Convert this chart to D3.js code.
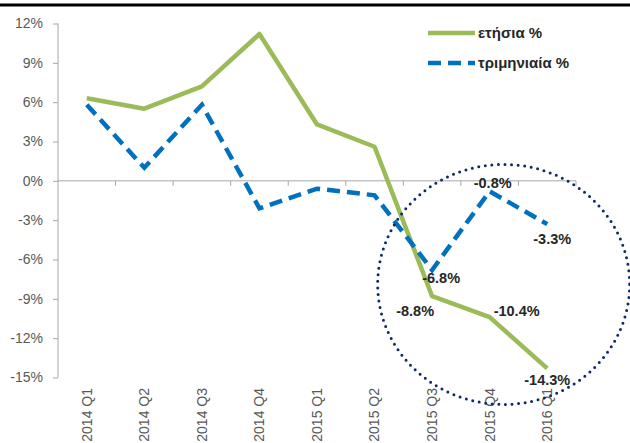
<!DOCTYPE html>
<html>
<head>
<meta charset="utf-8">
<script src="https://cdn.jsdelivr.net/npm/d3@7"></script>
<style>
  body { margin: 0; background: #fff; }
  svg { display: block; font-family: "Liberation Sans", Arial, sans-serif; }
</style>
</head>
<body>
<div class="chart"></div>
<script>
// Data
const quarters = ["2014 Q1", "2014 Q2", "2014 Q3", "2014 Q4", "2015 Q1", "2015 Q2", "2015 Q3", "2015 Q4", "2016 Q1"];
const annual = [6.3, 5.5, 7.2, 11.2, 4.3, 2.6, -8.8, -10.4, -14.3];
const quarterly = [5.8, 1.0, 5.8, -2.1, -0.6, -1.1, -6.8, -0.8, -3.3];
const yTicks = [12, 9, 6, 3, 0, -3, -6, -9, -12, -15];
const seriesNames = ["ετήσια %", "τριμηνιαία %"];
// which points carry a value label
const labelledPoints = [6, 7, 8];

const width = 630, height = 443;

const svg = d3.select(".chart")
    .append("svg")
    .attr("width", width)
    .attr("height", height);

// Scales
const xScale = d3.scaleBand()
    .domain(quarters)
    .range([58, 576]);

const yScale = d3.scaleLinear()
    .domain([-15, 12])
    .range([377.5, 23.5]);

const cx = d => xScale(d) + xScale.bandwidth() / 2;

// black rule at the very top
svg.append("line")
    .attr("x1", 0).attr("x2", width)
    .attr("y1", 5).attr("y2", 5)
    .attr("stroke", "#000")
    .attr("stroke-width", 3);

// Y axis
const yAxis = svg.append("g")
    .attr("transform", "translate(58,0)")
    .call(d3.axisLeft(yScale).tickValues(yTicks).tickSize(5).tickPadding(10).tickFormat(d => d + "%"));
yAxis.select(".domain").attr("stroke", "#a6a6a6").attr("d", `M0,${yScale(12)}V${yScale(-15)}`);
yAxis.selectAll(".tick line").attr("stroke", "#a6a6a6");
yAxis.selectAll(".tick text")
    .attr("fill", "#595959")
    .style("font-size", "14px")
    .style("font-family", "Liberation Sans, Arial, sans-serif");

// X axis line at 0% with ticks between categories
const xAxis = svg.append("g");
xAxis.append("line")
    .attr("x1", xScale.range()[0]).attr("x2", xScale.range()[1])
    .attr("y1", yScale(0)).attr("y2", yScale(0))
    .attr("stroke", "#a6a6a6");
xAxis.selectAll(".xtick")
    .data(quarters.slice(1).concat(["end"]))
    .enter()
    .append("line")
    .attr("x1", (d, i) => xScale.range()[0] + (i + 1) * xScale.step())
    .attr("x2", (d, i) => xScale.range()[0] + (i + 1) * xScale.step())
    .attr("y1", yScale(0))
    .attr("y2", yScale(0) + 5)
    .attr("stroke", "#a6a6a6");

// category labels, rotated, under the plot
svg.selectAll(".x-label")
    .data(quarters)
    .enter()
    .append("text")
    .attr("class", "x-label")
    .attr("transform", d => `translate(${cx(d)},388) rotate(-90)`)
    .attr("dy", "0.35em")
    .attr("text-anchor", "end")
    .attr("fill", "#595959")
    .style("font-size", "14px")
    .text(d => d);

// Line generator
const line = d3.line()
    .x((d, i) => cx(quarters[i]))
    .y(d => yScale(d));

// annual (green, solid)
svg.append("path")
    .datum(annual)
    .attr("fill", "none")
    .attr("stroke", "#9bbb59")
    .attr("stroke-width", 4.5)
    .attr("stroke-linejoin", "round")
    .attr("d", line);

// quarterly (blue, dashed)
svg.append("path")
    .datum(quarterly)
    .attr("fill", "none")
    .attr("stroke", "#0070c0")
    .attr("stroke-width", 4.5)
    .attr("stroke-dasharray", "13,7")
    .attr("d", line);

// value labels (offsets from the point, as placed in the original)
const annualOffsets = [[-17, 20, "middle"], [4, -1, "start"], [0, 17, "middle"]];
const quarterlyOffsets = [[9, 13, "middle"], [3, -3, "middle"], [5, 20, "middle"]];

function addLabels(values, offsets) {
    svg.selectAll(null)
        .data(labelledPoints)
        .enter()
        .append("text")
        .attr("x", (d, i) => cx(quarters[d]) + offsets[i][0])
        .attr("y", (d, i) => yScale(values[d]) + offsets[i][1])
        .attr("text-anchor", (d, i) => offsets[i][2])
        .attr("fill", "#262626")
        .style("font-size", "14.5px")
        .style("font-weight", "bold")
        .text(d => values[d].toFixed(1) + "%");
}
addLabels(annual, annualOffsets);
addLabels(quarterly, quarterlyOffsets);

// dotted circle around the last three quarters
svg.append("ellipse")
    .attr("cx", cx("2015 Q4") + 14)
    .attr("cy", yScale(-7.9))
    .attr("rx", 126)
    .attr("ry", 120)
    .attr("fill", "none")
    .attr("stroke", "#0d2a6a")
    .attr("stroke-width", 3)
    .attr("stroke-linecap", "round")
    .attr("stroke-dasharray", "0,6.6");

// Legend
const legend = svg.append("g").attr("transform", "translate(428,0)");
const legendY = [33, 63];
legend.append("line")
    .attr("x1", 0).attr("x2", 47)
    .attr("y1", legendY[0]).attr("y2", legendY[0])
    .attr("stroke", "#9bbb59")
    .attr("stroke-width", 4.5);
legend.append("line")
    .attr("x1", 0).attr("x2", 47)
    .attr("y1", legendY[1]).attr("y2", legendY[1])
    .attr("stroke", "#0070c0")
    .attr("stroke-width", 4.5)
    .attr("stroke-dasharray", "13,7");
legend.selectAll(".legend-text")
    .data(seriesNames)
    .enter()
    .append("text")
    .attr("x", 50)
    .attr("y", (d, i) => legendY[i] + 5)
    .attr("fill", "#262626")
    .style("font-size", "15px")
    .style("font-weight", "bold")
    .text(d => d);
</script>
</body>
</html>
